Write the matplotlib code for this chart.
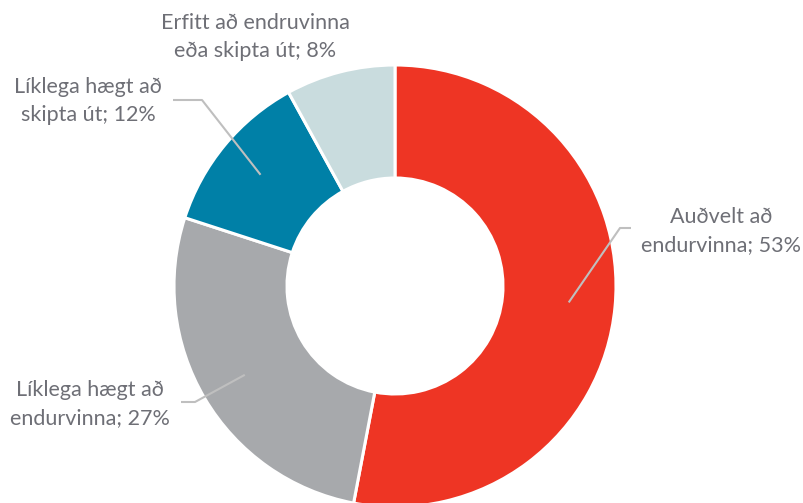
import numpy as np
import matplotlib
matplotlib.use("Agg")
import matplotlib.pyplot as plt

categories = [
    "Auðvelt að\nendurvinna",
    "Líklega hægt að\nendurvinna",
    "Líklega hægt að\nskipta út",
    "Erfitt að endruvinna\neða skipta út",
]
shares = [53, 27, 12, 8]
colors = ["#EE3524", "#A7A9AC", "#0080A7", "#C9DCDE"]

# label text anchor (x, y in pixels from top-left) and leader elbow
label_pos = [(721, 231), (90, 404), (88, 101), (255, 37)]
elbow_pos = [(620, 228), (195, 402), (202, 100), None]
elbow_end = [(631, 228), (181, 402), (173, 100), None]

W, H = 804, 503
fig = plt.figure(figsize=(W / 100, H / 100), dpi=100)
ax = fig.add_axes([0, 0, 1, 1])
ax.set_xlim(0, W)
ax.set_ylim(0, H)
ax.set_aspect("equal")
ax.axis("off")

cx, cy = 395, H - 286
r_out, r_in = 221, 108

wedges, _ = ax.pie(
    shares, colors=colors, startangle=90, counterclock=False,
    radius=r_out, center=(cx, cy),
    wedgeprops=dict(width=r_out - r_in, edgecolor="white", linewidth=2.2),
)
ax.set_xlim(0, W)
ax.set_ylim(0, H)

text_color = "#6E6F76"
line_color = "#BFBFBF"
r_mid = (r_out + r_in) / 2 + 10

total = sum(shares)
start = 90.0
for i, (cat, val) in enumerate(zip(categories, shares)):
    sweep = 360.0 * val / total
    mid = np.deg2rad(start - sweep / 2)
    start -= sweep
    if elbow_pos[i] is not None:
        x0 = cx + r_mid * np.cos(mid)
        y0 = cy + r_mid * np.sin(mid)
        ex, ey = elbow_pos[i]
        fx, fy = elbow_end[i]
        ax.plot([x0, ex, fx], [y0, H - ey, H - fy], color=line_color,
                lw=1.5, solid_capstyle="butt", zorder=5)
    lx, ly = label_pos[i]
    ax.text(lx, H - ly, f"{cat}; {val}%", ha="center", va="center",
            fontsize=15.5, family=["Lato", "DejaVu Sans"], color=text_color,
            linespacing=1.45, zorder=6)

fig.savefig("out.png", dpi=100)
